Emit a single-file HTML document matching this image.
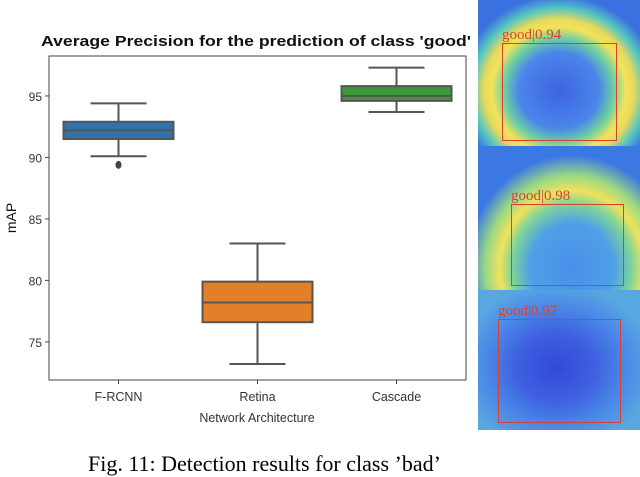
<!DOCTYPE html>
<html><head><meta charset="utf-8"><style>
body{margin:0;width:640px;height:462px;overflow:hidden;background:#fff;position:relative;font-family:"Liberation Sans",sans-serif}
.panel{position:absolute;left:478px;width:162px;overflow:hidden}
.bx{position:absolute;border:1.5px solid #d8412f;box-sizing:border-box}
.lb{position:absolute;color:#d8412f;font:15px "Liberation Serif",serif;white-space:nowrap}
</style></head><body>
<svg width="480" height="462" style="position:absolute;left:0;top:0" id="chart"></svg>
<div class="panel" style="top:0;height:146px;background:radial-gradient(ellipse 55% 58% at 50% 62%,#3e62e0 0%,#4a86ea 45%,#6fd0a0 62%,#f2e35a 75%,#e8da5a 84%,#56c6c0 97%,#3a70e0 112%)"></div>
<div class="panel" style="top:146px;height:144px;background:radial-gradient(ellipse 62% 75% at 58% 85%,#4a8eea 0%,#4fa0e6 42%,#7fd49a 60%,#f0e25c 72%,#9ad884 86%,#3c78e4 105%)"></div>
<div class="panel" style="top:290px;height:140px;background:radial-gradient(ellipse 60% 60% at 48% 55%,#3448d8 0%,#3e60e0 40%,#4a86e8 70%,#58a8e0 100%)"></div>
<div class="bx" style="left:502px;top:43px;width:115px;height:98px"></div>
<div class="lb" style="left:502px;top:27px">good|0.94</div>
<div class="bx" style="left:511px;top:204px;width:113px;height:82px"></div>
<div class="lb" style="left:511px;top:188px">good|0.98</div>
<div class="bx" style="left:498px;top:319px;width:123px;height:104px"></div>
<div class="lb" style="left:498px;top:303px">good|0.97</div>
<div style="position:absolute;left:88px;top:451px;font:22px 'Liberation Serif',serif;white-space:nowrap">Fig. 11: Detection results for class ’bad’</div>
<script>
const categories=["F-RCNN","Retina","Cascade"];
const whiskLow=[90.1,73.2,93.7];
const q1=[91.5,76.6,94.6];
const median=[92.2,78.2,95.0];
const q3=[92.9,79.9,95.8];
const whiskHigh=[94.4,83.0,97.3];
const outliers=[[89.4],[],[]];
const yTicks=[75,80,85,90,95];
const colors=["#2f74ad","#e2802a","#3a9a3a"];
const svg=document.getElementById('chart');const NS="http://www.w3.org/2000/svg";
const L=49,R=466,T=56,B=380,yMin=71.9,yMax=98.25;
const y=v=>B-(v-yMin)/(yMax-yMin)*(B-T);
const bw=(R-L)/categories.length;const x=i=>L+bw*(i+0.5);
function add(tag,at,name,txt){const e=document.createElementNS(NS,tag);for(const k in at)e.setAttribute(k,at[k]);


if(txt!==undefined)e.textContent=txt;svg.appendChild(e);return e;}
add('text',{x:256,y:46,'text-anchor':'middle','font-size':14.5,'font-weight':'bold',fill:'#111',textLength:430,lengthAdjust:'spacingAndGlyphs'},'chart-title',"Average Precision for the prediction of class 'good'");
add('rect',{x:L,y:T,width:R-L,height:B-T,fill:'none',stroke:'#444','stroke-width':1},'plot-frame');
yTicks.forEach(t=>{add('line',{x1:L-4,x2:L,y1:y(t),y2:y(t),stroke:'#444'},'y-tick');
add('text',{x:L-7,y:y(t)+5,'text-anchor':'end','font-size':12,fill:'#333'},'y-tick-label',t);});
add('text',{x:0,y:0,transform:'translate(16,218) rotate(-90)','text-anchor':'middle','font-size':14,fill:'#111'},'y-axis-title','mAP');
add('text',{x:257,y:422,'text-anchor':'middle','font-size':12.5,fill:'#333'},'x-axis-title','Network Architecture');
categories.forEach((c,i)=>{const cx=x(i),hw=55,cw=28;
add('line',{x1:cx,x2:cx,y1:B,y2:B+4,stroke:'#444'},'x-tick');
add('text',{x:cx,y:401,'text-anchor':'middle','font-size':12.5,fill:'#333'},'x-tick-label',c);
add('line',{x1:cx,x2:cx,y1:y(whiskHigh[i]),y2:y(q3[i]),stroke:'#555','stroke-width':2},'whisker-high-'+c);
add('line',{x1:cx,x2:cx,y1:y(q1[i]),y2:y(whiskLow[i]),stroke:'#555','stroke-width':2},'whisker-low-'+c);
add('line',{x1:cx-cw,x2:cx+cw,y1:y(whiskHigh[i]),y2:y(whiskHigh[i]),stroke:'#555','stroke-width':2},'cap-high-'+c);
add('line',{x1:cx-cw,x2:cx+cw,y1:y(whiskLow[i]),y2:y(whiskLow[i]),stroke:'#555','stroke-width':2},'cap-low-'+c);
add('rect',{x:cx-hw,y:y(q3[i]),width:2*hw,height:y(q1[i])-y(q3[i]),fill:colors[i],stroke:'#555','stroke-width':2},'box-'+c);
add('line',{x1:cx-hw,x2:cx+hw,y1:y(median[i]),y2:y(median[i]),stroke:'#555','stroke-width':2},'median-'+c);
outliers[i].forEach(o=>add('ellipse',{cx:cx,cy:y(o),rx:3,ry:4,fill:'#444'},'outlier-'+c));
});
</script>
</body></html>
